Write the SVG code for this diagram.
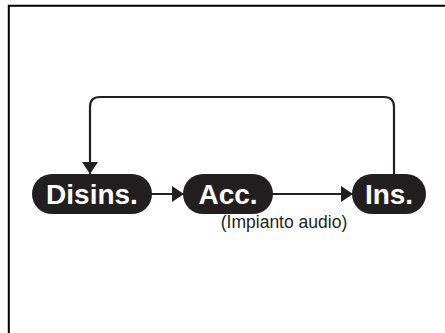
<svg xmlns="http://www.w3.org/2000/svg" width="445" height="333" viewBox="0 0 445 333">
<defs>
<style>
.pill{fill:#231f20}
.lbl{font-family:"Liberation Sans",Arial,sans-serif;font-weight:bold;font-size:28px;fill:#fff;text-anchor:middle}
.sub{font-family:"Liberation Sans",Arial,sans-serif;font-size:17.5px;fill:#231f20;text-anchor:middle}
.ln{fill:none;stroke:#231f20;stroke-width:2.2}
.frame{fill:none;stroke:#000;stroke-width:2}
</style>
<marker id="ah" viewBox="0 0 12 16" refX="12" refY="8" markerWidth="12" markerHeight="16" markerUnits="userSpaceOnUse" orient="auto">
<path d="M0,0 L12,8 L0,16 Z" fill="#231f20"/>
</marker>
</defs>
<rect width="445" height="333" fill="#fff"/>
<path class="frame" d="M8.8,333 V5.7 H445"/>
<g id="connectors">
<line class="ln" x1="150" y1="194" x2="184" y2="194" marker-end="url(#ah)"/>
<line class="ln" x1="271" y1="194" x2="353" y2="194" marker-end="url(#ah)"/>
<path class="ln" d="M394,176 V107 Q394,97 384,97 H100 Q90,97 90,107 V174" marker-end="url(#ah)"/>
</g>
<g id="disins">
<rect class="pill" x="32" y="174" width="120" height="40" rx="20"/>
<text class="lbl" x="92" y="204">Disins.</text>
</g>
<g id="acc">
<rect class="pill" x="183" y="174" width="90" height="40" rx="20"/>
<text class="lbl" x="228" y="204">Acc.</text>
<text class="sub" x="284" y="228">(Impianto audio)</text>
</g>
<g id="ins">
<rect class="pill" x="352" y="174" width="74" height="40" rx="20"/>
<text class="lbl" x="389" y="204">Ins.</text>
</g>
</svg>
